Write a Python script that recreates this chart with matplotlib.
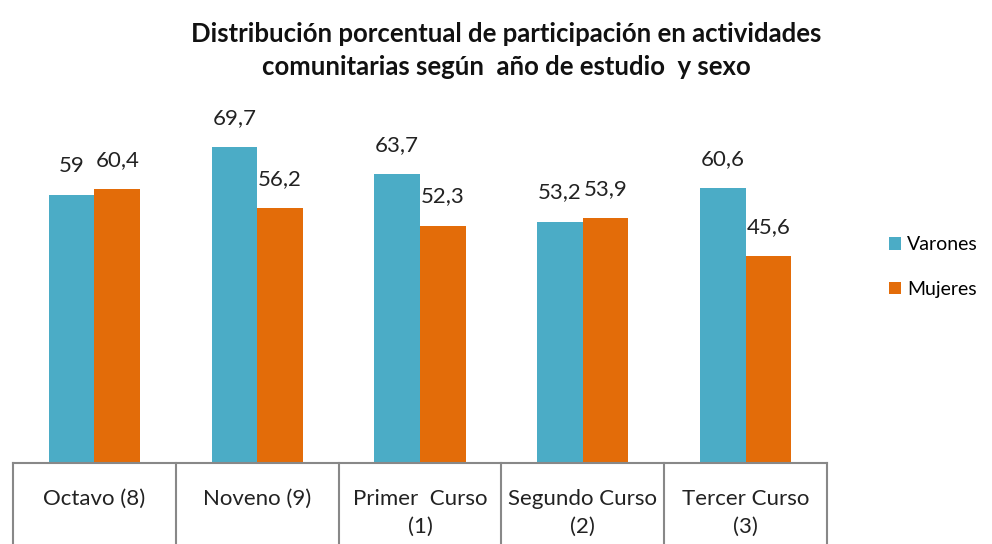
import numpy as np
import matplotlib.pyplot as plt

# ---------------------------------------------------
# Data
# ---------------------------------------------------

categorias = ["Octavo (8)", "Noveno (9)", "Primer  Curso\n(1)",
              "Segundo Curso\n(2)", "Tercer Curso\n(3)"]
varones = [59, 69.7, 63.7, 53.2, 60.6]
mujeres = [60.4, 56.2, 52.3, 53.9, 45.6]

plt.rcParams["font.family"] = ["Lato", "DejaVu Sans"]

fig = plt.figure(figsize=(9.92, 5.44), dpi=100)
ax = fig.add_axes([0.0131, 0.149, 0.8206, 0.667])

x = np.arange(len(categorias))
w = 0.28

b1 = ax.bar(x - w / 2, varones, w, color="#4BACC6", label="Varones")
b2 = ax.bar(x + w / 2, mujeres, w, color="#E36C09", label="Mujeres")

for bars in (b1, b2):
    for r in bars:
        v = r.get_height()
        ax.annotate(
            f"{v:g}".replace(".", ","),
            (r.get_x() + r.get_width() / 2, v),
            xytext=(0, 21), textcoords="offset points",
            ha="center", va="center", fontsize=16, color="#222222"
        )

ax.set_xlim(-0.5, len(categorias) - 0.5)
ax.set_ylim(0, 80)
ax.set_yticks([])
ax.set_xticks([])
for s in ax.spines.values():
    s.set_visible(False)

# category boxes under the bars
ax.plot([-0.5, len(categorias) - 0.5], [0, 0], color="#888888",
        lw=1.5, clip_on=False)
for i in range(len(categorias) + 1):
    ax.plot([i - 0.5, i - 0.5], [0, -20], color="#888888",
            lw=1.5, clip_on=False)
for i, c in enumerate(categorias):
    ax.text(i, -5.8, c, ha="center", va="top", fontsize=16,
            color="#222222", linespacing=1.5)

ax.legend(loc="center left", bbox_to_anchor=(1.055, 0.54), frameon=False,
          fontsize=14, handlelength=0.6, handleheight=0.6,
          handletextpad=0.3, labelspacing=1.4)

fig.text(0.51, 0.908,
         "Distribución porcentual de participación en actividades\n"
         "comunitarias según  año de estudio  y sexo",
         ha="center", va="center", fontsize=18.5, fontweight="bold",
         linespacing=1.45, color="#111111")

plt.savefig("out.png", dpi=100)
plt.close()
